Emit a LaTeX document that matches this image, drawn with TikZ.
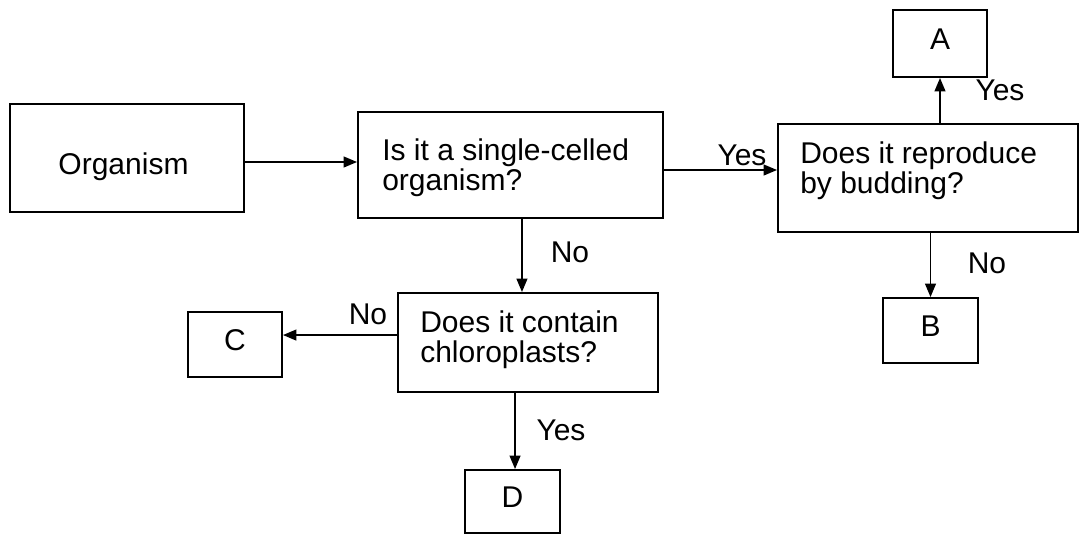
\documentclass[tikz,border=0pt]{standalone}
\usepackage{fontspec}
\setmainfont{Liberation Sans}
\usetikzlibrary{arrows.meta,fit}
\begin{document}
\begin{tikzpicture}[x=0.75pt,y=-0.75pt,
  every node/.style={font=\fontsize{22.5pt}{22.5pt}\selectfont, inner sep=0pt},
  box/.style={draw, line width=1.4pt, inner sep=0pt},
  letterbox/.style={box, text depth=6pt},
  txt/.style={align=left, anchor=west},
  lbl/.style={anchor=base},
  arr/.style={line width=1.4pt, -{Triangle[length=10pt,width=8pt]}}]
\useasboundingbox (0,0) rectangle (1079,536);
% boxes
\node[box, fit={(10,104) (244,212)}] (org) {};
\node[box, fit={(358,112) (663,218)}] (q1) {};
\node[box, fit={(778,124) (1078,232)}] (q2) {};
\node[box, fit={(398,293) (658,392)}] (q3) {};
\node[letterbox, minimum width=70.5pt, minimum height=50.25pt] (a) at (940,43.5) {A};
\node[letterbox, minimum width=71.25pt, minimum height=48.75pt] (b) at (930.5,330.5) {B};
\node[letterbox, minimum width=70.5pt, minimum height=48.75pt] (c) at (235,344.5) {C};
\node[letterbox, minimum width=71.25pt, minimum height=47.25pt] (d) at (512.5,501.5) {D};
% texts
\node (orgt) at (123.5,167) {Organism};
\node[txt] (q1t) at (382,167.4) {Is it a single-celled\\organism?};
\node[txt] (q2t) at (800,170.4) {Does it reproduce\\by budding?};
\node[txt] (q3t) at (420,339.4) {Does it contain\\chloroplasts?};
% connectors
\draw[arr] ([yshift=-3pt]org.east) -- ([yshift=-3pt]org.east -| q1.west);
\draw[arr] ([yshift=-3.75pt]q1.east) -- ([yshift=-3.75pt]q1.east -| q2.west);
\draw[arr] ([xshift=8.6pt]q1.south) -- ([xshift=8.6pt]q1.south |- q3.north);
\draw[arr] ([yshift=5.6pt]q3.west) -- ([yshift=5.6pt]q3.west -| c.east);
\draw[arr] ([xshift=1.9pt]d.north |- q3.south) -- ([xshift=1.9pt]d.north);
\draw[arr] (a.south |- q2.north) -- (a.south);
\draw[arr] (b.north |- q2.south) -- (b.north);
% labels
\node[lbl] (l1) at (742,165) {Yes};
\node[lbl] (l2) at (1000,100) {Yes};
\node[lbl] (l3) at (570,262) {No};
\node[lbl] (l4) at (368,324) {No};
\node[lbl] (l5) at (561,440) {Yes};
\node[lbl] (l6) at (987,273) {No};
\end{tikzpicture}
\end{document}
